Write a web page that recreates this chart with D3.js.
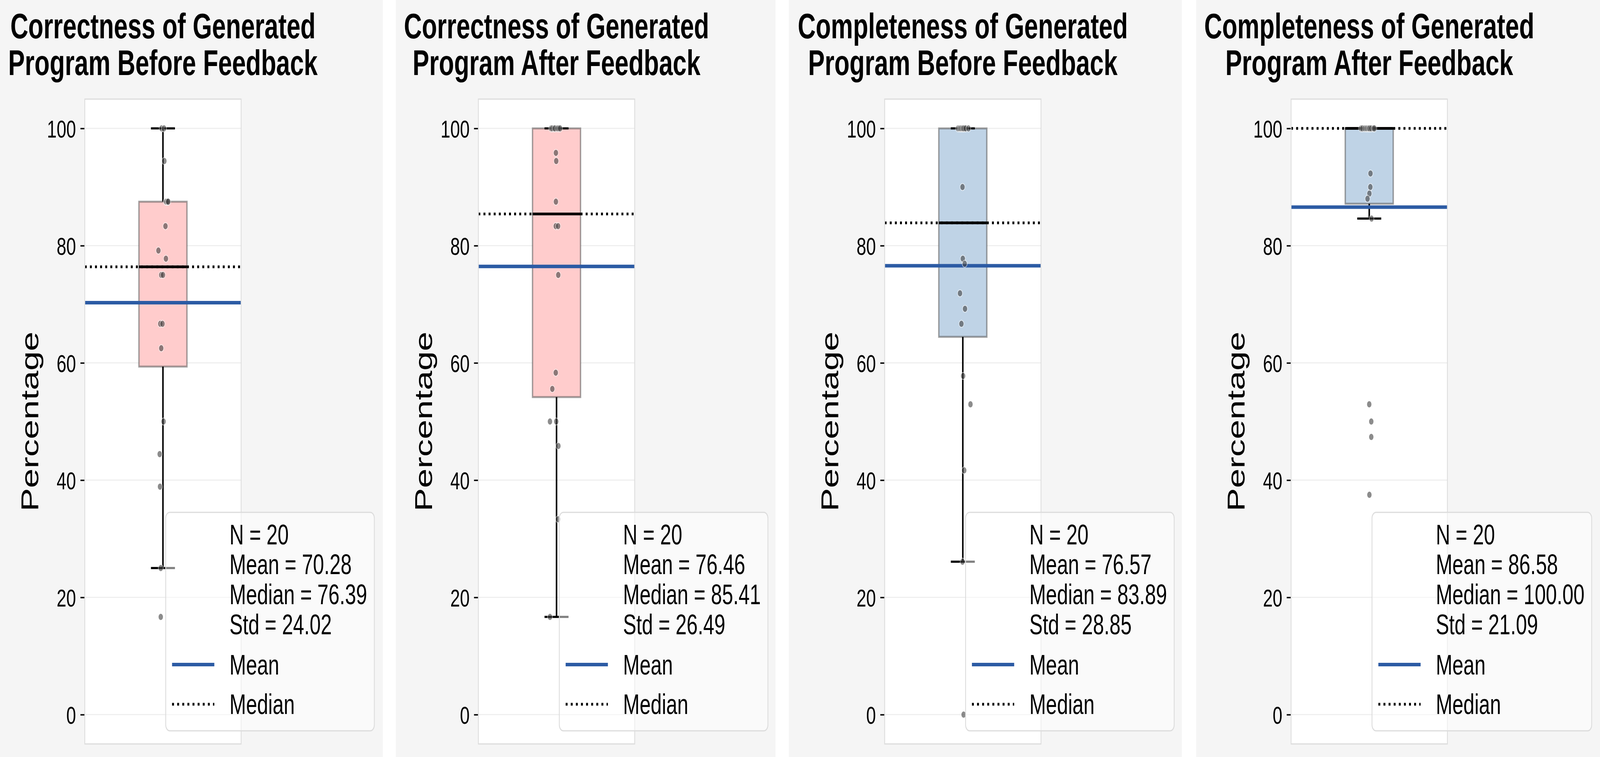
<!DOCTYPE html>
<html>
<head>
<meta charset="utf-8">
<script src="https://cdn.jsdelivr.net/npm/d3@7"></script>
<style>
  html, body { margin: 0; padding: 0; background: #fff; overflow: hidden; }
  svg { display: block; font-family: "Liberation Sans", Arial, Helvetica, sans-serif; }
</style>
</head>
<body>
<div id="chart"></div>
<script>
// ---- data ----
const titles = [
  ["Correctness of Generated", "Program Before Feedback"],
  ["Correctness of Generated", "Program After Feedback"],
  ["Completeness of Generated", "Program Before Feedback"],
  ["Completeness of Generated", "Program After Feedback"]
];
const boxColors = ["#ffcccc", "#ffcccc", "#bfd3e6", "#bfd3e6"];

const correctBefore = [100, 100, 94.44, 87.5, 87.5, 87.5, 87.5, 83.33, 79.17, 77.78,
  75, 75, 66.67, 66.67, 62.5, 50, 44.44, 38.89, 25, 16.67];
const correctAfter = [100, 100, 100, 100, 100, 100, 100, 95.83, 94.44, 87.5,
  83.33, 83.33, 75, 58.33, 55.56, 50, 50, 45.83, 33.33, 16.67];
const completeBefore = [100, 100, 100, 100, 100, 100, 100, 100, 100, 90,
  77.78, 76.92, 71.88, 69.23, 66.67, 57.78, 52.94, 41.67, 26.09, 0];
const completeAfter = [100, 100, 100, 100, 100, 100, 100, 100, 100, 100,
  100, 92.31, 90, 88.89, 88, 84.62, 52.94, 50, 47.37, 37.5];

// horizontal strip jitter of each point (category units, box width = 0.307)
const jitterCorrectBefore = [-0.009, 0.007, 0.009, 0.018, 0.023, 0.030, 0.034, 0.016, -0.029, 0.019,
  -0.011, 0.000, -0.017, -0.003, -0.011, 0.004, -0.021, -0.019, -0.014, -0.014];
const jitterCorrectAfter = [-0.035, -0.027, -0.016, -0.009, 0.005, 0.014, 0.023, -0.004, -0.002, -0.004,
  -0.005, 0.010, 0.011, -0.005, -0.027, -0.042, -0.002, 0.012, 0.010, -0.042];
const jitterCompleteBefore = [-0.031, -0.022, -0.015, -0.009, -0.002, 0.003, 0.010, 0.019, 0.036, -0.002,
  0.000, 0.012, -0.018, 0.014, -0.009, 0.002, 0.049, 0.009, -0.002, 0.005];
const jitterCompleteAfter = [-0.052, -0.043, -0.030, -0.021, -0.014, -0.007, -0.001, 0.004, 0.013, 0.026,
  0.033, 0.008, 0.007, 0.001, -0.011, 0.015, 0.000, 0.013, 0.013, 0.001];

const scores = [correctBefore, correctAfter, completeBefore, completeAfter];
const jitters = [jitterCorrectBefore, jitterCorrectAfter, jitterCompleteBefore, jitterCompleteAfter];

const means = [70.28, 76.46, 76.57, 86.58];
const medians = [76.39, 85.41, 83.89, 100.00];
const stds = [24.02, 26.49, 28.85, 21.09];
const yTicks = [0, 20, 40, 60, 80, 100];

// ---- layout (drawn in 5793x1937 units, stretched to the window) ----
const W = 5793, H = 1937;
// [panel left, panel right, axes left]
const panelBox = [[0, 1386, 307], [1433, 2808, 1732], [2856, 4279, 3203], [4331, 5793, 4674.5]];
const axW = 566, axTop = 253.6, axBottom = 1903.6;
const boxW = 0.307, capW = boxW / 2;
const meanColor = "#2c5ba4";
const dotted = "7,11.5";

const svg = d3.select("#chart").append("svg")
    .attr("width", window.innerWidth)
    .attr("height", window.innerHeight)
    .attr("viewBox", `0 0 ${W} ${H}`)
    .attr("preserveAspectRatio", "none");

scores.forEach((vals, i) => {
  const [px0, px1, axL] = panelBox[i];
  const g = svg.append("g");

  g.append("rect")
      .attr("x", px0).attr("y", 0)
      .attr("width", px1 - px0).attr("height", H)
      .attr("fill", "#f5f5f5");

  const x = d3.scaleLinear().domain([-0.5, 0.5]).range([axL, axL + axW]);
  const y = d3.scaleLinear().domain([-5, 105]).range([axBottom, axTop]);

  g.append("rect")
      .attr("x", axL).attr("y", axTop)
      .attr("width", axW).attr("height", axBottom - axTop)
      .attr("fill", "#fff");

  // grid
  g.append("g").selectAll("line")
    .data(yTicks)
    .join("line")
      .attr("x1", axL).attr("x2", axL + axW)
      .attr("y1", d => y(d)).attr("y2", d => y(d))
      .attr("stroke", "#efefef")
      .attr("stroke-width", 3);

  // y axis
  const ax = g.append("g")
      .attr("transform", `translate(${axL},0)`)
      .call(d3.axisLeft(y).tickValues(yTicks).tickSize(15.75).tickPadding(16));
  ax.select(".domain").remove();
  ax.selectAll(".tick line").attr("stroke", "#000").attr("stroke-width", 3.6);
  ax.selectAll(".tick text")
      .attr("font-size", 63)
      .attr("font-family", "'Liberation Sans', Arial, Helvetica, sans-serif")
      .attr("fill", "#000")
      .attr("dy", "0.36em");

  // box statistics
  const sorted = vals.slice().sort(d3.ascending);
  const q1 = d3.quantileSorted(sorted, 0.25);
  const q3 = d3.quantileSorted(sorted, 0.75);
  const med = d3.quantileSorted(sorted, 0.5);
  const iqr = q3 - q1;
  const lo = d3.min(sorted.filter(v => v >= q1 - 1.5 * iqr));
  const hi = d3.max(sorted.filter(v => v <= q3 + 1.5 * iqr));

  g.append("rect")
      .attr("x", x(-boxW / 2)).attr("y", y(q3))
      .attr("width", x(boxW / 2) - x(-boxW / 2))
      .attr("height", y(q1) - y(q3))
      .attr("fill", boxColors[i])
      .attr("stroke", "#555")
      .attr("stroke-opacity", 0.55)
      .attr("stroke-width", 5);

  const whisk = g.append("g").attr("stroke", "#000").attr("stroke-width", 5.5);
  [[q1, lo], [q3, hi]].forEach(([a, b]) => {
    if (a === b) return;
    whisk.append("line")
        .attr("x1", x(0)).attr("x2", x(0))
        .attr("y1", y(a)).attr("y2", y(b));
  });
  [lo, hi].forEach(v => {
    whisk.append("line")
        .attr("x1", x(-capW / 2)).attr("x2", x(capW / 2))
        .attr("y1", y(v)).attr("y2", y(v));
  });
  g.append("line")
      .attr("x1", x(-boxW / 2)).attr("x2", x(boxW / 2))
      .attr("y1", y(med)).attr("y2", y(med))
      .attr("stroke", "#000").attr("stroke-width", 7);

  // mean and median reference lines
  g.append("line")
      .attr("x1", axL).attr("x2", axL + axW)
      .attr("y1", y(means[i])).attr("y2", y(means[i]))
      .attr("stroke", meanColor).attr("stroke-width", 9);
  g.append("line")
      .attr("x1", axL).attr("x2", axL + axW)
      .attr("y1", y(medians[i])).attr("y2", y(medians[i]))
      .attr("stroke", "#000").attr("stroke-width", 7)
      .attr("stroke-dasharray", dotted);

  // strip points
  g.append("g").selectAll("circle")
    .data(vals)
    .join("circle")
      .attr("cx", (d, j) => x(jitters[i][j]))
      .attr("cy", d => y(d))
      .attr("r", 9)
      .attr("fill", "#404040")
      .attr("stroke", "#fff")
      .attr("stroke-width", 2)
      .attr("opacity", 0.6);

  // frame
  g.append("rect")
      .attr("x", axL).attr("y", axTop)
      .attr("width", axW).attr("height", axBottom - axTop)
      .attr("fill", "none")
      .attr("stroke", "#dddddd")
      .attr("stroke-width", 3);

  // title
  const t = g.append("text")
      .attr("text-anchor", "middle")
      .attr("font-size", 90)
      .attr("font-weight", "bold");
  titles[i].forEach((line, k) => {
    t.append("tspan").attr("x", axL + axW / 2).attr("y", 98 + k * 94).text(line);
  });

  // y label
  g.append("text")
      .attr("transform", `translate(${axL - 168},${(axTop + axBottom) / 2}) rotate(-90)`)
      .attr("text-anchor", "middle")
      .attr("font-size", 90)
      .text("Percentage");

  // legend
  const lx = axL + 293, ly = 1311, lh = 559;
  const leg = g.append("g");
  const frame = leg.append("rect")
      .attr("x", lx).attr("y", ly)
      .attr("height", lh)
      .attr("rx", 15)
      .attr("fill", "#fff").attr("fill-opacity", 0.5)
      .attr("stroke", "#dcdcdc").attr("stroke-width", 3);

  const statLines = [
    `N = ${vals.length}`,
    `Mean = ${means[i].toFixed(2)}`,
    `Median = ${medians[i].toFixed(2)}`,
    `Std = ${stds[i].toFixed(2)}`
  ];
  const rowY = [81.6, 158.5, 235.3, 312.2];
  let maxLen = 0;
  statLines.forEach((s, k) => {
    const tx = leg.append("text")
        .attr("x", lx + 231).attr("y", ly + rowY[k])
        .attr("font-size", 72)
        .text(s);
    maxLen = Math.max(maxLen, tx.node().getComputedTextLength());
  });

  const items = [
    { label: "Mean", color: meanColor, width: 9, dash: null, hy: 389.6, ty: 414.7 },
    { label: "Median", color: "#000", width: 7, dash: dotted, hy: 491, ty: 516.2 }
  ];
  items.forEach(it => {
    leg.append("line")
        .attr("x1", lx + 23).attr("x2", lx + 176)
        .attr("y1", ly + it.hy).attr("y2", ly + it.hy)
        .attr("stroke", it.color).attr("stroke-width", it.width)
        .attr("stroke-dasharray", it.dash);
    const tx = leg.append("text")
        .attr("x", lx + 231).attr("y", ly + it.ty)
        .attr("font-size", 72)
        .text(it.label);
    maxLen = Math.max(maxLen, tx.node().getComputedTextLength());
  });
  frame.attr("width", 231 + maxLen + 26);
});
</script>
</body>
</html>
